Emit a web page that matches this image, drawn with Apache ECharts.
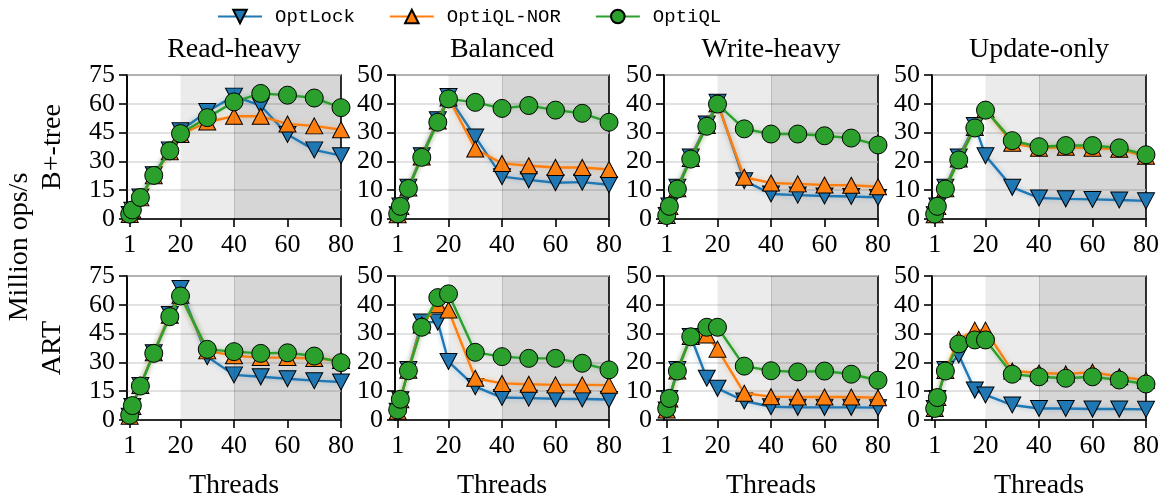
<!DOCTYPE html>
<html>
<head>
<meta charset="utf-8">
<title>OptiQL throughput</title>
<script src="https://cdn.jsdelivr.net/npm/echarts@6/dist/echarts.min.js"></script>
<style>
  html, body { margin: 0; padding: 0; background: #fff; }
  #chart { width: 1167px; height: 503px; }
</style>
</head>
<body>
<div id="chart"></div>
<script>
// thread counts on the x axis
const threads = [1, 2, 5, 10, 16, 20, 30, 40, 50, 60, 70, 80];
const xTicks = [1, 20, 40, 60, 80];
const workloads = ['Read-heavy', 'Balanced', 'Write-heavy', 'Update-only'];
const indexNames = ['B+-tree', 'ART'];
const methods = ['OptLock', 'OptiQL-NOR', 'OptiQL'];
const yMaxes = [75, 50, 50, 50];
const ySteps = [15, 10, 10, 10];

// B+-tree, million ops/s
const btReadOptLock = [2.3, 4.5, 11.5, 23, 36, 46, 56, 64, 59, 44, 36, 33];
const btReadNor = [2.3, 4.5, 11, 22.5, 35, 44, 50.5, 53.5, 53.5, 49.5, 48.5, 46.5];
const btReadOptiQL = [2.5, 4.7, 11.2, 22.7, 35.5, 44.5, 52.8, 61, 65.4, 64.5, 63, 58];

const btBalOptLock = [1.5, 4.5, 11, 22, 34.5, 42.5, 28.5, 14.7, 13.6, 12.6, 12.8, 11.9];
const btBalNor = [1.5, 4.3, 10.8, 21.5, 34, 42, 24.3, 19.3, 18.5, 17.9, 17.9, 17.2];
const btBalOptiQL = [1.8, 4.4, 10.6, 21.4, 33.6, 41.7, 40.5, 38.4, 39.4, 37.8, 36.7, 33.6];

const btWriteOptLock = [1.2, 4.5, 11, 21.5, 33, 40.5, 13.3, 8.7, 8.3, 8, 7.8, 7.5];
const btWriteNor = [1.2, 4.3, 10.5, 21, 32.5, 40, 14.5, 12.5, 12.2, 11.8, 11.7, 11.2];
const btWriteOptiQL = [1.2, 4.4, 10.4, 20.8, 32.2, 39.9, 31.3, 29.5, 29.5, 28.9, 28.1, 25.7];

const btUpdOptLock = [1.5, 4.5, 11, 21.5, 32.5, 22, 11, 7.3, 7.0, 6.8, 6.6, 6.3];
const btUpdNor = [1.5, 4.3, 10.5, 20.8, 31.8, 38, 26.3, 24.6, 24.9, 24.6, 24.2, 21.8];
const btUpdOptiQL = [1.7, 4.4, 10.4, 20.5, 31.6, 37.8, 27.2, 25.1, 25.5, 25.5, 24.7, 22.3];

// ART, million ops/s
const artReadOptLock = [2, 7, 18, 35, 55, 68.5, 33, 23.5, 22.5, 21.5, 20.5, 19.8];
const artReadNor = [2, 7, 18, 35, 54.5, 65, 36, 33.5, 32.5, 32.5, 32, 31];
const artReadOptiQL = [2.5, 7.5, 17.7, 34.7, 53.8, 64.6, 36.8, 35.6, 34.7, 35, 33.3, 29.9];

const artBalOptLock = [3, 7, 17.5, 34, 34, 20.3, 11.6, 7.8, 7.6, 7.4, 7.3, 7.1];
const artBalNor = [3, 7, 17.3, 33, 40, 38.2, 14.5, 12.7, 12.4, 12.2, 12.2, 12.1];
const artBalOptiQL = [3.5, 7.2, 17.1, 32.2, 42.5, 43.8, 23.5, 22, 21.4, 21.4, 19.7, 17.4];

const artWriteOptLock = [3.5, 7.5, 17.5, 29, 14.5, 11, 6.6, 4.6, 4.4, 4.4, 4.4, 4.3];
const artWriteNor = [3.5, 7.3, 17, 29, 29.5, 24.6, 9.3, 8.1, 8, 8, 8, 7.7];
const artWriteOptiQL = [4, 7.5, 17, 28.9, 32.2, 32.2, 18.7, 17.1, 16.7, 17, 15.9, 13.8];

const artUpdOptLock = [4, 7.5, 17.5, 22.6, 10.4, 8.7, 5.2, 4, 4, 3.8, 3.8, 3.7];
const artUpdNor = [4, 7.8, 17.2, 28, 31.2, 31.2, 17, 16.3, 16, 16.6, 15, 13.8];
const artUpdOptiQL = [4, 7.8, 17, 26.4, 27.8, 27.8, 15.9, 15, 14.5, 15, 13.9, 12.5];

const panels = [
  [btReadOptLock, btReadNor, btReadOptiQL],
  [btBalOptLock, btBalNor, btBalOptiQL],
  [btWriteOptLock, btWriteNor, btWriteOptiQL],
  [btUpdOptLock, btUpdNor, btUpdOptiQL],
  [artReadOptLock, artReadNor, artReadOptiQL],
  [artBalOptLock, artBalNor, artBalOptiQL],
  [artWriteOptLock, artWriteNor, artWriteOptiQL],
  [artUpdOptLock, artUpdNor, artUpdOptiQL]
];

const colors = ['#1f77b4', '#ff7f0e', '#2ca02c'];
const shadows = ['rgba(31,119,180,0.35)', 'rgba(255,127,14,0.35)', 'rgba(44,160,44,0.35)'];
const symbols = ['path://M0,0L10,0L5,10Z', 'triangle', 'circle'];
const symbolSizes = [[17, 16], [17, 16], 18];

const serif = '"Liberation Serif", "DejaVu Serif", serif';
const mono = '"Liberation Mono", "DejaVu Sans Mono", monospace';

const colLeft = [127, 395, 664, 932];
const rowTop = [75, 276];
const plotW = 214;
const plotH = 144;

const chart = echarts.init(document.getElementById('chart'));

let grids = [], xAxes = [], yAxes = [], series = [], graphics = [];

function label(text, x, y, rotated) {
  return {
    type: 'text', x: x, y: y, rotation: rotated ? Math.PI / 2 : 0,
    style: {text: text, font: '28px ' + serif, fill: '#000', align: 'center', verticalAlign: 'middle'}
  };
}

panels.forEach((panel, g) => {
  const col = g % 4, row = Math.floor(g / 4);
  grids.push({
    left: colLeft[col], top: rowTop[row], width: plotW, height: plotH,
    show: true, borderColor: '#000', borderWidth: 1.6, backgroundColor: '#fff'
  });
  xAxes.push({
    type: 'value', gridIndex: g, min: 0, max: 80,
    axisLine: {show: true, lineStyle: {color: '#000', width: 1.6}},
    axisTick: {show: true, customValues: xTicks, length: 8, lineStyle: {color: '#000', width: 1.6}},
    axisLabel: {customValues: xTicks, margin: 13, color: '#000', fontFamily: serif, fontSize: 26},
    splitLine: {show: false}
  });
  yAxes.push({
    type: 'value', gridIndex: g, min: 0, max: yMaxes[col], interval: ySteps[col],
    axisLine: {show: true, lineStyle: {color: '#000', width: 1.6}},
    axisTick: {show: true, length: 8, lineStyle: {color: '#000', width: 1.6}},
    axisLabel: {margin: 12, color: '#000', fontFamily: serif, fontSize: 26},
    splitLine: {show: true, lineStyle: {color: '#d9d9d9', width: 1.5}}
  });
  panel.forEach((vals, m) => {
    const s = {
      name: methods[m], type: 'line', xAxisIndex: g, yAxisIndex: g,
      data: threads.map((t, i) => [t, vals[i]]),
      symbol: symbols[m], symbolSize: symbolSizes[m],
      z: 3 + m,
      itemStyle: {color: colors[m], borderColor: '#000', borderWidth: 1},
      lineStyle: {color: colors[m], width: 2.4, shadowColor: shadows[m], shadowBlur: 5},
      emphasis: {disabled: true},
      animation: false
    };
    if (m === 0) {
      s.markArea = {
        silent: true,
        data: [
          [{xAxis: 20, itemStyle: {color: 'rgba(0,0,0,0.08)'}}, {xAxis: 40}],
          [{xAxis: 40, itemStyle: {color: 'rgba(0,0,0,0.16)'}}, {xAxis: 80}]
        ]
      };
      s.markLine = {
        silent: true, symbol: 'none', label: {show: false},
        lineStyle: {color: 'rgba(0,0,0,0.12)', width: 1, type: 'solid'},
        data: [{xAxis: 40}]
      };
    }
    series.push(s);
  });
  if (row === 0) {
    graphics.push(label(workloads[col], colLeft[col] + plotW / 2, 50, false));
  } else {
    graphics.push(label('Threads', colLeft[col] + plotW / 2, 486, false));
  }
});

graphics.push(label('Million ops/s', 20, 247, true));
indexNames.forEach((name, r) => {
  graphics.push(label(name, 53, rowTop[r] + plotH / 2, true));
});

chart.setOption({
  animation: false,
  legend: {
    data: methods, left: 212, top: 2,
    itemWidth: 44, itemHeight: 17, itemGap: 34,
    textStyle: {fontFamily: mono, fontSize: 19, color: '#000', padding: [0, 0, 0, 8]}
  },
  grid: grids,
  xAxis: xAxes,
  yAxis: yAxes,
  series: series,
  graphic: graphics
});
</script>
</body>
</html>
